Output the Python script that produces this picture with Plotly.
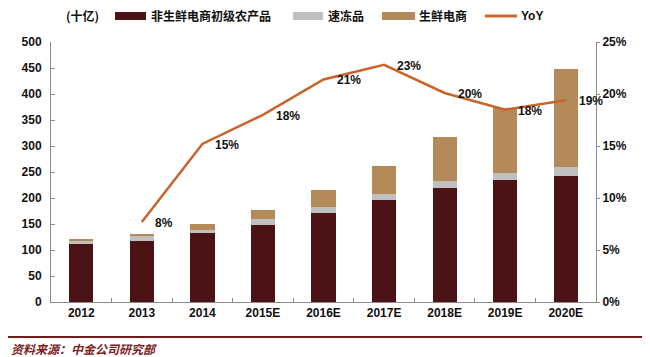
import plotly.graph_objects as go

categories = ["2012", "2013", "2014", "2015E", "2016E", "2017E", "2018E", "2019E", "2020E"]
non_fresh = [112, 117, 132, 149, 172, 197, 219, 235, 242]
frozen = [6, 9, 6, 10, 10, 11, 13, 14, 17]
fresh_ecom = [2, 4, 12, 18, 33, 54, 85, 124, 189]
yoy = [None, 0.077, 0.152, 0.180, 0.214, 0.228, 0.201, 0.185, 0.194]
yoy_labels = ["", "8%", "15%", "18%", "21%", "23%", "20%", "18%", "19%"]

series_names = ["非生鲜电商初级农产品", "速冻品", "生鲜电商", "YoY"]
unit_label = "(十亿)"
source_text = "资料来源：中金公司研究部"

C_DARK = "#4c1317"
C_GRAY = "#c0c0c0"
C_TAN = "#b58a5a"
C_LINE = "#c8642c"

# the page body has an 8px margin; figure sized so it fits the 650x357 window
OFF = 8
W, H = 650 - OFF, 357 - OFF
PLOT_L, PLOT_R, PLOT_T, PLOT_B = 51, 596, 42, 302  # page pixel edges of the plot area
ML = PLOT_L - OFF
MT = PLOT_T - OFF
MR = W - (PLOT_R - OFF)
MB = H - (PLOT_B - OFF)
PW, PH = W - ML - MR, H - MT - MB


def px(x):
    return (x - PLOT_L) / PW


def py(y):
    return (PLOT_B - y) / PH


LAT = "Liberation Sans, Arial, sans-serif"
CJK = "Noto Sans CJK SC, sans-serif"

fig = go.Figure()
fig.add_bar(x=categories, y=non_fresh, name=series_names[0], marker_color=C_DARK, marker_line_width=0)
fig.add_bar(x=categories, y=frozen, name=series_names[1], marker_color=C_GRAY, marker_line_width=0)
fig.add_bar(x=categories, y=fresh_ecom, name=series_names[2], marker_color=C_TAN, marker_line_width=0)
fig.add_scatter(x=categories, y=yoy, name=series_names[3], mode="lines", yaxis="y2",
                line=dict(color=C_LINE, width=2.5))

annotations = []
for i, (v, t) in enumerate(zip(yoy, yoy_labels)):
    if v is None:
        continue
    annotations.append(dict(x=i, y=v, xref="x", yref="y2", text=t, showarrow=False,
                            xanchor="left", yanchor="middle", xshift=11, yshift=-1,
                            font=dict(family=LAT, size=12, color="#111", weight="bold")))

# manual legend
shapes = []
legend_items = [
    (115, 146, C_DARK, "rect", series_names[0], 149),
    (293, 323, C_GRAY, "rect", series_names[1], 326),
    (382, 415, C_TAN, "rect", series_names[2], 417),
    (485, 517, C_LINE, "line", series_names[3], 519),
]
LY = 16
for x0, x1, col, kind, name, tx in legend_items:
    if kind == "rect":
        shapes.append(dict(type="rect", xref="paper", yref="paper", x0=px(x0), x1=px(x1),
                           y0=py(LY + 4), y1=py(LY - 4), fillcolor=col, line_width=0, layer="above"))
    else:
        shapes.append(dict(type="line", xref="paper", yref="paper", x0=px(x0), x1=px(x1),
                           y0=py(LY), y1=py(LY), line=dict(color=col, width=3)))
    annotations.append(dict(x=px(tx), y=py(LY), xref="paper", yref="paper", text=name,
                            showarrow=False, xanchor="left", yanchor="middle",
                            font=dict(family=CJK if name != "YoY" else LAT, size=12,
                                      color="#111", weight="bold")))
annotations.append(dict(x=px(64), y=py(LY), xref="paper", yref="paper", text=unit_label,
                        showarrow=False, xanchor="left", yanchor="middle",
                        font=dict(family=CJK, size=12, color="#111", weight="bold")))

# separator + source
shapes.append(dict(type="line", xref="paper", yref="paper", x0=px(OFF), x1=px(645),
                   y0=py(337), y1=py(337), line=dict(color="#6e1d1d", width=2)))
annotations.append(dict(x=px(OFF + 1), y=py(348), xref="paper", yref="paper", text=source_text,
                        showarrow=False, xanchor="left", yanchor="middle",
                        font=dict(family=CJK, size=12, color="#7a2222", weight="bold", style="italic")))

axis_font = dict(family=LAT, size=12, color="#111", weight="bold")

fig.update_layout(
    width=W, height=H, autosize=False,
    margin=dict(l=ML, r=MR, t=MT, b=MB, pad=0),
    paper_bgcolor="white", plot_bgcolor="white",
    barmode="stack", bargap=0.6,
    showlegend=False,
    xaxis=dict(type="category", range=[-0.5, len(categories) - 0.5], showline=True,
               linecolor="#8c8c8c", linewidth=1,
               ticks="inside", tickson="boundaries", ticklen=4, tickcolor="#8c8c8c",
               tickfont=axis_font, showgrid=False, zeroline=False),
    yaxis=dict(range=[0, 500], dtick=50, showline=True, linecolor="#8c8c8c", linewidth=1,
               ticks="inside", ticklen=4, tickcolor="#8c8c8c", tickfont=axis_font,
               showgrid=False, zeroline=False, ticklabelstandoff=6),
    yaxis2=dict(range=[0, 0.25], dtick=0.05, tickformat=".0%", overlaying="y", side="right",
                showline=True, linecolor="#8c8c8c", linewidth=1, ticks="outside", ticklen=3,
                tickcolor="#8c8c8c", tickfont=axis_font, showgrid=False, zeroline=False),
    shapes=shapes,
    annotations=annotations,
)

fig.write_html("out.html")
